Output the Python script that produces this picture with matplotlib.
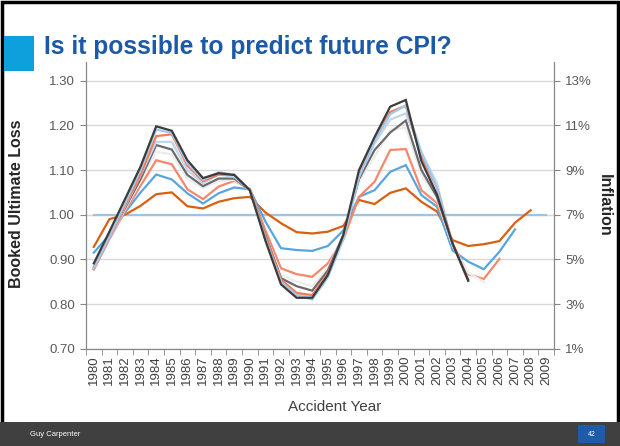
import numpy as np
import matplotlib
matplotlib.use("Agg")
import matplotlib.pyplot as plt
from matplotlib.patches import Rectangle
from matplotlib.ticker import FixedLocator, FuncFormatter

plt.rcParams['font.family'] = ['Liberation Sans', 'DejaVu Sans']

years = list(range(1980, 2010))
nan = np.nan

# booked ultimate loss by accident year, one list per evaluation
orange = [0.928, 0.990, 1.000, 1.020, 1.046, 1.050, 1.019, 1.014, 1.029, 1.037,
          1.040, 1.005, 0.981, 0.961, 0.958, 0.962, 0.975, 1.033, 1.024, 1.049,
          1.059, 1.029, 1.007, 0.943, 0.930, 0.934, 0.941, 0.982, 1.010, nan]
blue = [0.915, 0.955, 1.005, 1.050, 1.090, 1.079, 1.048, 1.025, 1.048, 1.061,
        1.057, 0.985, 0.925, 0.921, 0.919, 0.930, 0.965, 1.040, 1.055, 1.096,
        1.111, 1.044, 1.018, 0.920, 0.895, 0.878, 0.917, 0.967, nan, nan]
salmon2 = [0.878, 0.945, 1.008, 1.065, 1.122, 1.113, 1.057, 1.035, 1.063, 1.076,
           1.058, 0.965, 0.880, 0.867, 0.861, 0.891, 0.945, 1.040, 1.074, 1.145,
           1.147, 1.055, 1.026, 0.935, 0.867, 0.856, 0.901, nan, nan, nan]
faint = [0.880, 0.947, 1.012, 1.075, 1.141, 1.135, 1.080, 1.060, 1.075, 1.078,
         1.055, 0.955, 0.865, 0.850, 0.840, 0.880, 0.955, 1.075, 1.130, 1.190,
         1.195, 1.090, 1.035, 0.930, 0.870, 0.850, nan, nan, nan, nan]
gray = [0.882, 0.948, 1.015, 1.080, 1.156, 1.146, 1.089, 1.064, 1.081, 1.081,
        1.055, 0.955, 0.858, 0.840, 0.830, 0.875, 0.955, 1.080, 1.145, 1.184,
        1.211, 1.100, 1.040, 0.935, 0.855, nan, nan, nan, nan, nan]
lightblue2 = [0.879, 0.947, 1.018, 1.088, 1.163, 1.163, 1.100, 1.070, 1.090, 1.085,
              1.055, 0.950, 0.853, 0.822, 0.815, 0.865, 0.950, 1.085, 1.160, 1.213,
              1.227, 1.140, 1.070, 0.930, nan, nan, nan, nan, nan, nan]
salmon1 = [0.878, 0.948, 1.020, 1.090, 1.176, 1.180, 1.110, 1.075, 1.090, 1.090,
           1.055, 0.950, 0.855, 0.825, 0.820, 0.868, 0.950, 1.090, 1.170, 1.230,
           1.244, 1.130, 1.060, 0.935, nan, nan, nan, nan, nan, nan]
lightblue1 = [0.880, 0.950, 1.025, 1.100, 1.191, 1.183, 1.115, 1.078, 1.095, 1.090,
              1.055, 0.945, 0.850, 0.820, 0.810, 0.860, 0.945, 1.085, 1.165, 1.225,
              1.245, 1.140, 1.060, 0.930, nan, nan, nan, nan, nan, nan]
black = [0.891, 0.962, 1.035, 1.108, 1.198, 1.188, 1.122, 1.082, 1.093, 1.089,
         1.055, 0.942, 0.844, 0.814, 0.814, 0.865, 0.955, 1.100, 1.174, 1.242,
         1.257, 1.120, 1.045, 0.935, 0.852, nan, nan, nan, nan, nan]
baseline = [1.0] * 30

series = [
    (baseline, '#9dc3e6'),
    (orange, '#d9600f'),
    (blue, '#58a6df'),
    (salmon2, '#f7876a'),
    (faint, '#ececec'),
    (gray, '#6b6b6b'),
    (lightblue2, '#bdd7ee'),
    (salmon1, '#f47a58'),
    (lightblue1, '#a4c8ea'),
    (black, '#3c3c3c'),
]

fig = plt.figure(figsize=(6.2, 4.46), dpi=100)

# slide frame, footer bar, title block
fig.patches.append(Rectangle((0.0025, 0.0), 0.995, 0.996, transform=fig.transFigure,
                             fill=False, edgecolor='black', linewidth=2.5, zorder=0))
fig.patches.append(Rectangle((0, 0), 1, 24 / 446, transform=fig.transFigure,
                             facecolor='#404040', edgecolor='none', zorder=1))
fig.patches.append(Rectangle((578 / 620, 3 / 446), 27 / 620, 18 / 446, transform=fig.transFigure,
                             facecolor='#1f5ba6', edgecolor='none', zorder=2))
fig.patches.append(Rectangle((4 / 620, 1 - 71 / 446), 30 / 620, 35 / 446, transform=fig.transFigure,
                             facecolor='#0ea0dc', edgecolor='none', zorder=2))
fig.text(44 / 620, 1 - 47 / 446, 'Is it possible to predict future CPI?', fontsize=17.7,
         fontweight='bold', color='#1c5aa6', va='center', ha='left')
fig.text(30 / 620, 12 / 446, 'Guy Carpenter', fontsize=5.5, color='white', va='center')
fig.text(591.5 / 620, 12 / 446, '42', fontsize=5, color='white', va='center', ha='center')

ax = fig.add_axes([86 / 620, 1 - 348.7 / 446, 468 / 620, (348.7 - 62) / 446])
x = np.arange(len(years))
for vals, col in series:
    ax.plot(x, vals, color=col, linewidth=1.6, solid_joinstyle='miter')

ymin, ymax = 0.70, 1.342
ax.set_ylim(ymin, ymax)
ax.set_xlim(-0.5, len(years) - 0.5)
ax.set_yticks(np.arange(0.7, 1.31, 0.1))
ax.yaxis.set_major_formatter(FuncFormatter(lambda v, p: f'{v:.2f}'))
ax.grid(axis='y', color='#d9d9d9', linewidth=1)
ax.set_axisbelow(True)

ax.set_xticks(x)
ax.set_xticklabels([str(y) for y in years], rotation=90)
ax.xaxis.set_minor_locator(FixedLocator(np.arange(-0.5, len(years), 1)))
ax.tick_params(axis='x', which='major', length=0, pad=5, labelsize=9.5, labelcolor='#404040')
ax.tick_params(axis='x', which='minor', length=4, color='#868686')
ax.tick_params(axis='y', length=4, color='#868686', labelsize=9.5, labelcolor='#595959', pad=4)

for side in ['left', 'right', 'bottom']:
    ax.spines[side].set_color('#868686')
ax.spines['top'].set_visible(False)

ax2 = ax.twinx()
ax2.set_ylim(7 + (ymin - 1) * 20, 7 + (ymax - 1) * 20)
ax2.set_yticks(range(1, 14, 2))
ax2.yaxis.set_major_formatter(FuncFormatter(lambda v, p: f'{v:.0f}%'))
ax2.tick_params(axis='y', length=4, color='#868686', labelsize=9.5, labelcolor='#595959', pad=4)
for side in ['left', 'right', 'bottom']:
    ax2.spines[side].set_color('#868686')
ax2.spines['top'].set_visible(False)

fig.text(17 / 620, 1 - 204 / 446, 'Booked Ultimate Loss', rotation=90, fontsize=11.5,
         fontweight='bold', color='#262626', ha='center', va='center')
fig.text(604 / 620, 1 - 205 / 446, 'Inflation', rotation=-90, fontsize=11.5,
         fontweight='bold', color='#262626', ha='center', va='center')
fig.text(335 / 620, 1 - 407 / 446, 'Accident Year', fontsize=11, color='#404040',
         ha='center', va='center')

fig.savefig('out.png', dpi=100)
